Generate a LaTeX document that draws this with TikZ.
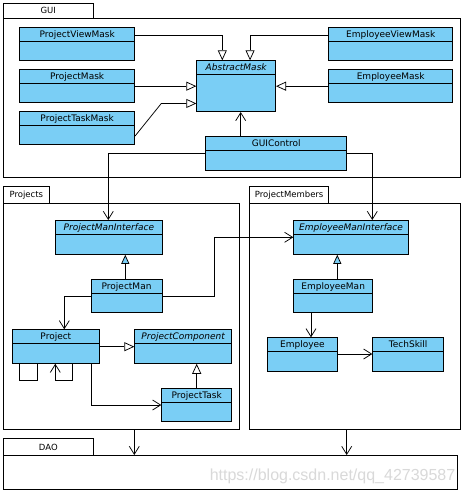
\documentclass[tikz,border=0pt]{standalone}
\usepackage{fontspec}
\setmainfont{DejaVu Sans}[ItalicFont={DejaVu Sans Oblique}]
\newfontfamily\wmfont{Liberation Sans}
\usetikzlibrary{arrows.meta}
\definecolor{clsblue}{RGB}{122,206,245}
\tikzset{
    umlclass/.style={rectangle, draw, fill=clsblue, line width=0.75pt, inner sep=0pt, anchor=north west,
        path picture={\draw[line width=0.75pt] ([yshift=-13.5pt]path picture bounding box.north west) -- ([yshift=-13.5pt]path picture bounding box.north east);}},
    cname/.style={anchor=base, yshift=-10.5pt, inner sep=0pt, font=\fontsize{9}{10}\selectfont},
    iname/.style={cname, font=\fontsize{9}{10}\selectfont\itshape},
    pkg/.style={rectangle, draw, line width=0.75pt, inner sep=0pt, anchor=north west},
    pkgtab/.style={pkg, font=\fontsize{8.5}{10}\selectfont},
    gen/.style={-{Triangle[open, length=10pt, width=9pt]}, line width=0.75pt},
    real/.style={-{Triangle[fill=clsblue, length=9pt, width=8pt]}, line width=0.75pt},
    dep/.style={-{Straight Barb[length=8pt, width=10pt]}, line width=0.75pt},
    edge/.style={-, line width=0.75pt},
}

\begin{document}
\begin{tikzpicture}[x=1pt, y=-1pt]
    \fill[white] (0,0) rectangle (465,493);
    \useasboundingbox (0,0) rectangle (465,493);
    % packages
    \node[pkgtab, minimum width=90.3pt, minimum height=15.6pt] (guitab) at (2.7,2.7) {GUI};
    \node[pkg, minimum width=457.3pt, minimum height=158.7pt] (guibox) at (2.7,18.3) {};
    \node[pkgtab, minimum width=46.6pt, minimum height=17.3pt] (projtab) at (2.7,186) {Projects};
    \node[pkg, minimum width=236.6pt, minimum height=226pt] (projbox) at (2.7,203.3) {};
    \node[pkgtab, minimum width=79pt, minimum height=17.3pt] (memtab) at (249.3,186) {ProjectMembers};
    \node[pkg, minimum width=211pt, minimum height=226pt] (membox) at (249.3,203.3) {};
    \node[pkgtab, minimum width=90.6pt, minimum height=16.7pt] (daotab) at (2.7,438.3) {DAO};
    \node[pkg, minimum width=454pt, minimum height=33.7pt] (daobox) at (2.7,455) {};
    % GUI classes
    \node[umlclass, minimum width=115pt, minimum height=33pt, label={[cname]north:ProjectViewMask}] (pvm) at (19.3,27.3) {};
    \node[umlclass, minimum width=115pt, minimum height=33pt, label={[cname]north:ProjectMask}] (pm) at (19.3,69.3) {};
    \node[umlclass, minimum width=115pt, minimum height=33pt, label={[cname]north:ProjectTaskMask}] (ptm) at (19.3,111.3) {};
    \node[umlclass, minimum width=79pt, minimum height=51pt, label={[iname]north:AbstractMask}] (am) at (196.3,60.3) {};
    \node[umlclass, minimum width=124pt, minimum height=33pt, label={[cname]north:EmployeeViewMask}] (evm) at (328.3,27.3) {};
    \node[umlclass, minimum width=124pt, minimum height=33pt, label={[cname]north:EmployeeMask}] (em) at (328.3,69.3) {};
    \node[umlclass, minimum width=141pt, minimum height=34pt, label={[cname]north:GUIControl}] (gc) at (205.3,136.3) {};
    % Projects classes
    \node[umlclass, minimum width=106.4pt, minimum height=34pt, label={[iname]north:ProjectManInterface}] (pmi) at (55.3,220) {};
    \node[umlclass, minimum width=71pt, minimum height=32.7pt, label={[cname]north:ProjectMan}] (pman) at (90.7,279.3) {};
    \node[umlclass, minimum width=87.6pt, minimum height=33.7pt, label={[cname]north:Project}] (proj) at (11.7,329.3) {};
    \node[umlclass, minimum width=97pt, minimum height=33.7pt, label={[iname]north:ProjectComponent}] (pc) at (134.3,329.3) {};
    \node[umlclass, minimum width=70pt, minimum height=33pt, label={[cname]north:ProjectTask}] (pt) at (161.3,388) {};
    % ProjectMembers classes
    \node[umlclass, minimum width=114.7pt, minimum height=34pt, label={[iname]north:EmployeeManInterface}] (emi) at (293.3,220) {};
    \node[umlclass, minimum width=79pt, minimum height=32.7pt, label={[cname]north:EmployeeMan}] (eman) at (293.3,279.3) {};
    \node[umlclass, minimum width=70.6pt, minimum height=34pt, label={[cname]north:Employee}] (emp) at (266.7,337.3) {};
    \node[umlclass, minimum width=71pt, minimum height=34pt, label={[cname]north:TechSkill}] (ts) at (372.3,337.3) {};
    % GUI connectors
    \draw[gen] ([yshift=-7.7pt]pvm.north east) -| ([xshift=26pt]am.north west);
    \draw[gen] ([yshift=-7.7pt]evm.north west) -| ([xshift=-26pt]am.north east);
    \draw[gen] (pm.east) -- (am.west |- pm.east);
    \draw[gen] (em.west) -- (am.east |- em.west);
    \draw[gen] ([yshift=9pt]ptm.south east) -- ([xshift=-35pt, yshift=8.6pt]am.south west) -- ([yshift=8.6pt]am.south west);
    \draw[dep] ([xshift=35.4pt]gc.north west) -- ([xshift=44.4pt]am.south west);
    \draw[dep] ([yshift=-17pt]gc.north west) -| ([xshift=53pt]pmi.north west);
    \draw[dep] ([yshift=-17pt]gc.north east) -| ([xshift=79pt]emi.north west);
    % Projects connectors
    \draw[real] ([xshift=34.6pt]pman.north west) -- ([xshift=70pt]pmi.south west);
    \draw[dep] ([yshift=-16.7pt]pman.north west) -| ([xshift=52.6pt]proj.north west);
    \draw[dep] ([yshift=-17pt]pman.north east) -- ++(51.6,0) |- ([yshift=-17.3pt]emi.north west);
    \draw[gen] ([yshift=-17.4pt]proj.north east) -- ([yshift=-17.4pt]pc.north west);
    \draw[gen] ([xshift=35.4pt]pt.north west) -- ([xshift=62.4pt]pc.south west);
    \draw[dep] ([xshift=-8.6pt]proj.south east) |- ([yshift=-17pt]pt.north west);
    \draw[edge] ([xshift=8pt]proj.south west) -- ++(0,16.3) -| ([xshift=25.3pt]proj.south west);
    \draw[dep] ([xshift=60.6pt]proj.south west) -- ++(0,16.3) -| ([xshift=43.6pt]proj.south west);
    % ProjectMembers connectors
    \draw[real] ([xshift=44pt]eman.north west) -- ([xshift=44pt]emi.south west);
    \draw[dep] ([xshift=17.7pt]eman.south west) -- ([xshift=44.3pt]emp.north west);
    \draw[dep] ([yshift=-16.7pt]emp.north east) -- ([yshift=-16.7pt]ts.north west);
    % DAO
    \draw[dep] ([xshift=131.6pt]projbox.south west) -- ([xshift=131.6pt]daobox.north west);
    \draw[dep] ([xshift=97.4pt]membox.south west) -- ([xshift=344pt]daobox.north west);
    \node[anchor=base east, inner sep=0pt, text=black!15, font=\wmfont\fontsize{16}{18}\selectfont] (wm) at (455.5,480) {https://blog.csdn.net/qq\_42739587};
\end{tikzpicture}
\end{document}
